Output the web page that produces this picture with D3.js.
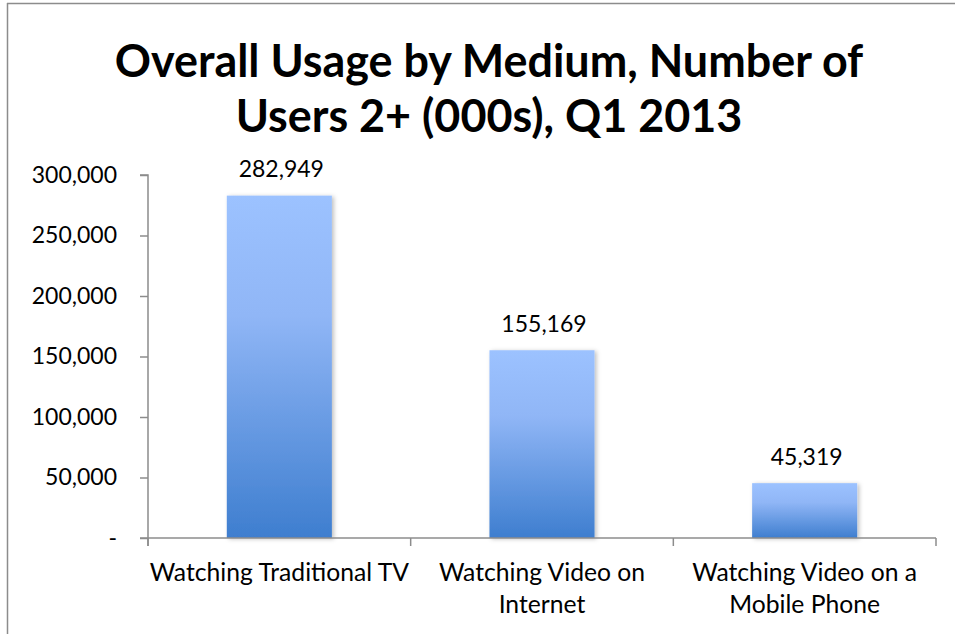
<!DOCTYPE html>
<html>
<head>
<meta charset="utf-8">
<script src="https://cdnjs.cloudflare.com/ajax/libs/d3/7.8.5/d3.min.js"></script>
<style>
  body { margin: 0; background: #fff; }
  svg { font-family: Lato, "Open Sans", sans-serif; }
</style>
</head>
<body>
<div id="chart"></div>
<script>
// chart data
var categories = ['Watching Traditional TV', 'Watching Video on Internet', 'Watching Video on a Mobile Phone'];
var categoryLines = [['Watching Traditional TV'], ['Watching Video on', 'Internet'], ['Watching Video on a', 'Mobile Phone']];
var users = [282949, 155169, 45319];
var yTicks = [0, 50000, 100000, 150000, 200000, 250000, 300000];
var titleLines = ['Overall Usage by Medium, Number of', 'Users 2+ (000s), Q1 2013'];

var width = 955, height = 634;
var margin = {left: 148, right: 19, top: 175, bottom: 96};

var svg = d3.select('#chart').append('svg')
  .attr('width', width).attr('height', height);

var defs = svg.append('defs');
var grad = defs.append('linearGradient')
  .attr('id', 'barGrad')
  .attr('x1', 0).attr('y1', 0).attr('x2', 0).attr('y2', 1);
grad.append('stop').attr('offset', '0%').attr('stop-color', '#9cc2ff');
grad.append('stop').attr('offset', '35%').attr('stop-color', '#90b6f6');
grad.append('stop').attr('offset', '100%').attr('stop-color', '#3e7ecf');

var shadow = defs.append('filter').attr('id', 'shadow')
  .attr('x', '-10%').attr('y', '-5%').attr('width', '130%').attr('height', '115%');
shadow.append('feDropShadow')
  .attr('dx', 2).attr('dy', 1).attr('stdDeviation', 2)
  .attr('flood-color', '#000').attr('flood-opacity', 0.25);

// outer border (top and left visible)
svg.append('line').attr('x1', 7).attr('x2', width).attr('y1', 3.5).attr('y2', 3.5)
  .attr('stroke', '#8c8c8c').attr('stroke-width', 1.5);
svg.append('line').attr('x1', 7.5).attr('x2', 7.5).attr('y1', 3).attr('y2', height)
  .attr('stroke', '#8c8c8c').attr('stroke-width', 1.5);

// title
svg.append('g').selectAll('text').data(titleLines).enter()
  .append('text')
  .attr('x', 489)
  .attr('y', function (d, i) { return 77 + i * 55; })
  .attr('text-anchor', 'middle')
  .attr('font-size', 44.9)
  .attr('font-weight', 'bold')
  .attr('fill', '#000')
  .text(function (d) { return d; });

var x = d3.scaleBand()
  .domain(categories)
  .range([margin.left, width - margin.right])
  .paddingInner(0.6).paddingOuter(0.3);

var y = d3.scaleLinear()
  .domain([0, 300000])
  .range([538, margin.top]);

// bars
svg.append('g').selectAll('rect').data(users).enter()
  .append('rect')
  .attr('x', function (d, i) { return x(categories[i]); })
  .attr('width', x.bandwidth())
  .attr('y', function (d) { return y(d); })
  .attr('height', function (d) { return y(0) - y(d); })
  .attr('fill', 'url(#barGrad)')
  .attr('filter', 'url(#shadow)');

// y axis
var yAxis = d3.axisLeft(y)
  .tickValues(yTicks)
  .tickSize(8)
  .tickPadding(23)
  .tickFormat(function (d) { return d === 0 ? '-' : d3.format(',')(d); });
var yg = svg.append('g').attr('transform', 'translate(' + margin.left + ',0)').call(yAxis);
yg.selectAll('text').attr('font-size', 23).attr('fill', '#000').attr('font-family', 'Lato, sans-serif');
yg.selectAll('line, path').attr('stroke', '#8c8c8c').attr('stroke-width', 1.5);
yg.select('.domain').attr('d', 'M-8,' + y(300000) + 'H0V' + (y(0) + 8));

// x axis: category boundaries
var step = (width - margin.right - margin.left) / categories.length;
var boundaries = d3.range(categories.length + 1).map(function (i) { return margin.left + i * step; });
var xg = svg.append('g');
xg.append('line')
  .attr('x1', margin.left - 8).attr('x2', width - margin.right)
  .attr('y1', y(0)).attr('y2', y(0))
  .attr('stroke', '#8c8c8c').attr('stroke-width', 1.5);
xg.selectAll('.xtick').data(boundaries).enter()
  .append('line').attr('class', 'xtick')
  .attr('x1', function (d) { return d; }).attr('x2', function (d) { return d; })
  .attr('y1', y(0)).attr('y2', y(0) + 8)
  .attr('stroke', '#8c8c8c').attr('stroke-width', 1.5);

// category labels
xg.selectAll('.xlab').data(categoryLines).enter()
  .append('text').attr('class', 'xlab')
  .attr('text-anchor', 'middle')
  .attr('font-size', 24.7)
  .attr('fill', '#000')
  .each(function (lines, i) {
    var cx = x(categories[i]) + x.bandwidth() / 2;
    d3.select(this).selectAll('tspan').data(lines).enter()
      .append('tspan')
      .attr('x', cx)
      .attr('y', function (d, j) { return 581 + j * 32; })
      .text(function (d) { return d; });
  });

// value labels
svg.append('g').selectAll('text').data(users).enter()
  .append('text')
  .attr('x', function (d, i) { return x(categories[i]) + x.bandwidth() / 2 + 2; })
  .attr('y', function (d) { return y(d) - 18.5; })
  .attr('text-anchor', 'middle')
  .attr('font-size', 23)
  .attr('fill', '#000')
  .text(function (d) { return d3.format(',')(d); });
</script>
</body>
</html>
